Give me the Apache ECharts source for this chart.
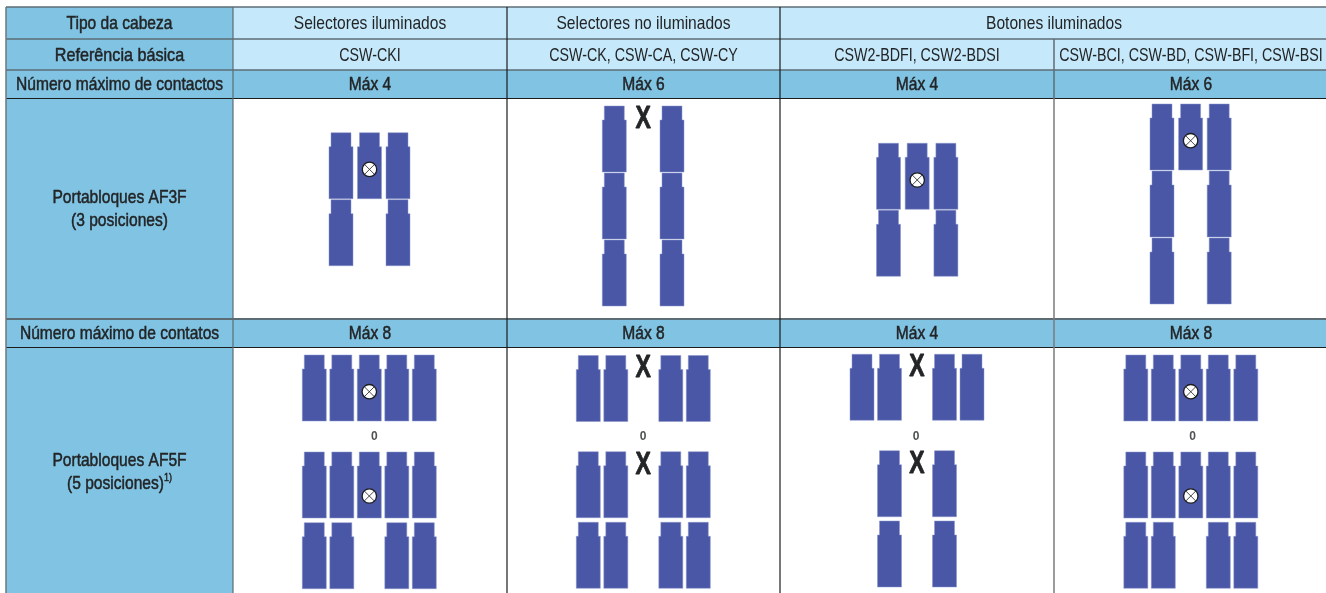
<!DOCTYPE html>
<html>
<head>
<meta charset="utf-8">
<title>Portabloques</title>
<style>
  html, body { margin: 0; padding: 0; background: #fff; }
  #chart { width: 1326px; height: 593px; }
</style>
<script src="https://cdn.jsdelivr.net/npm/echarts@6/dist/echarts.min.js"></script>
</head>
<body>
<div id="chart"></div>
<script>
// table text
const headTypes = ['Selectores iluminados', 'Selectores no iluminados', 'Botones iluminados'];
const basicRefs = ['CSW-CKI', 'CSW-CK, CSW-CA, CSW-CY', 'CSW2-BDFI, CSW2-BDSI', 'CSW-BCI, CSW-BD, CSW-BFI, CSW-BSI'];
const maxAf3 = ['Máx 4', 'Máx 6', 'Máx 4', 'Máx 6'];
const maxAf5 = ['Máx 8', 'Máx 8', 'Máx 4', 'Máx 8'];

// contact blocks per column: B block, L block with lamp, X not allowed, . empty
const af3Rows = [
  ['BLB', 'B.B'],
  ['BXB', 'B.B', 'B.B'],
  ['BLB', 'B.B'],
  ['BLB', 'B.B', 'B.B']
];
const af5FirstRows = ['BBLBB', 'BBXBB', 'BBXBB', 'BBLBB'];
const af5SecondRows = [
  ['BBLBB', 'BB.BB'],
  ['BBXBB', 'BB.BB'],
  ['.BXB.', '.B.B.'],
  ['BBLBB', 'BB.BB']
];

// layout, in page pixels (the axes below run 0-1326 and 0-593)
const colX = [6, 233, 507, 780, 1054, 1328];
const rowY = [7, 39, 70, 98, 319, 347, 597];
const af3Origin = [[329, 132.7, 28.5], [602.3, 106, 28.85], [876.5, 143.3, 28.7], [1150, 104, 28.6]];
const af5Origin = [[302.3, 27.5], [576.3, 27.5], [850, 27.5], [1123.8, 27.5]];
const af5Tops = [[355, 452, 522.7], [355.5, 451.7, 522.3], [354.3, 450.7, 521], [355, 452, 522.3]];
const orLabelX = [374.3, 643, 916, 1192.7];

const BLOCK_W = 24;
const BLOCK_H = 66;
const NECK_W = 20;
const NECK_H = 14;
const AF3_PITCH_Y = 67;
const TEXT_SCALE = 0.82;
const REF_SCALE = 0.75;

const DARK = '#80c3e2';
const LIGHT = '#c5e9fa';
const BLUE = '#4a57a6';
const INK = '#222426';
const SLATE = '#5c6c74';
const FONT = '"Liberation Sans", Arial, sans-serif';

// header and label cells
const cells = [];
const addCell = (c0, c1, r0, r1, fill, text, strong, scale) => {
  cells.push({ x0: colX[c0], x1: colX[c1], y0: rowY[r0], y1: rowY[r1], fill, text, strong, scale: scale || TEXT_SCALE });
};
addCell(0, 1, 0, 1, DARK, 'Tipo da cabeza', true);
addCell(1, 2, 0, 1, LIGHT, headTypes[0]);
addCell(2, 3, 0, 1, LIGHT, headTypes[1]);
addCell(3, 5, 0, 1, LIGHT, headTypes[2]);
addCell(0, 1, 1, 2, DARK, 'Referência básica', true, 0.85);
basicRefs.forEach((t, i) => addCell(i + 1, i + 2, 1, 2, LIGHT, t, false, REF_SCALE));
addCell(0, 1, 2, 3, DARK, 'Número máximo de contactos', true);
maxAf3.forEach((t, i) => addCell(i + 1, i + 2, 2, 3, DARK, t, true));
addCell(0, 1, 3, 4, DARK, 'Portabloques AF3F\n(3 posiciones)', true);
addCell(0, 1, 4, 5, DARK, 'Número máximo de contatos', true);
maxAf5.forEach((t, i) => addCell(i + 1, i + 2, 4, 5, DARK, t, true));
addCell(0, 1, 5, 6, DARK, 'Portabloques AF5F\n(5 posiciones){sup|1)}', true);

// grid lines: [x0, y0, x1, y1, colour, width]
const rules = [
  [6, 7, 1326, 7, SLATE, 1.5],
  [6, 39, 1326, 39, SLATE, 1.5],
  [6, 70, 1326, 70, SLATE, 1.5],
  [6, 98.5, 1326, 98.5, '#1c1c1c', 1],
  [6, 319, 1326, 319, SLATE, 2],
  [6, 347.5, 1326, 347.5, '#1c1c1c', 1],
  [6, 7, 6, 593, '#6b777d', 1.5],
  [233, 7, 233, 593, SLATE, 1.2],
  [507, 7, 507, 593, '#1c1c1c', 1.2],
  [780, 7, 780, 593, '#1c1c1c', 1.2],
  [1054, 39, 1054, 98, SLATE, 1.5],
  [1054, 98, 1054, 593, '#7a7a7a', 1.5]
];

// every block and X mark as [x, y, kind]
const marks = [];
const addRow = (pattern, x0, pitch, y) => {
  pattern.split('').forEach((k, i) => {
    if (k !== '.') marks.push([x0 + i * pitch, y, k]);
  });
};
af3Rows.forEach((rows, i) => {
  const [x0, top, pitch] = af3Origin[i];
  rows.forEach((pattern, r) => addRow(pattern, x0, pitch, top + r * AF3_PITCH_Y));
});
af5FirstRows.forEach((pattern, i) => addRow(pattern, af5Origin[i][0], af5Origin[i][1], af5Tops[i][0]));
af5SecondRows.forEach((rows, i) => {
  rows.forEach((pattern, r) => addRow(pattern, af5Origin[i][0], af5Origin[i][1], af5Tops[i][r + 1]));
});
// lamps sit lower in the second AF5F group
const lampOffset = y => (y > 440 && y < 470 ? 44 : 36.7);

const renderCell = (params, api) => {
  const c = cells[api.value(4)];
  const p0 = api.coord([c.x0, c.y0]);
  const p1 = api.coord([c.x1, c.y1]);
  const cy = c.text.indexOf('AF5F') > -1 ? api.coord([0, 472])[1] : (p0[1] + p1[1]) / 2 + 1;
  return {
    type: 'group',
    children: [
      { type: 'rect', shape: { x: p0[0], y: p0[1], width: p1[0] - p0[0], height: p1[1] - p0[1] }, style: { fill: c.fill } },
      {
        type: 'text',
        x: (p0[0] + p1[0]) / 2,
        y: cy,
        scaleX: c.scale,
        style: {
          text: c.text,
          align: 'center',
          verticalAlign: 'middle',
          font: '19px ' + FONT,
          lineHeight: 23,
          fill: INK,
          stroke: c.strong ? INK : null,
          lineWidth: c.strong ? 0.5 : 0,
          rich: { sup: { font: '11px ' + FONT, fill: INK, verticalAlign: 'top', lineHeight: 23 } }
        }
      }
    ]
  };
};

const renderRule = (params, api) => {
  const p0 = api.coord([api.value(0), api.value(1)]);
  const p1 = api.coord([api.value(2), api.value(3)]);
  const r = rules[api.value(4)];
  return {
    type: 'line',
    shape: { x1: p0[0], y1: p0[1], x2: p1[0], y2: p1[1] },
    style: { stroke: r[4], lineWidth: r[5] }
  };
};

const renderMark = (params, api) => {
  const p = api.coord([api.value(0), api.value(1)]);
  const kind = marks[params.dataIndex][2];
  const cx = p[0] + BLOCK_W / 2;
  if (kind === 'X') {
    return {
      type: 'text',
      x: cx,
      y: p[1] + 13,
      scaleX: 0.72,
      style: { text: 'X', align: 'center', verticalAlign: 'middle', font: 'bold 32px ' + FONT, fill: INK, stroke: INK, lineWidth: 0.8 }
    };
  }
  const inset = (BLOCK_W - NECK_W) / 2;
  const children = [{
    type: 'polygon',
    shape: {
      points: [
        [p[0] + inset, p[1]], [p[0] + BLOCK_W - inset, p[1]],
        [p[0] + BLOCK_W - inset, p[1] + NECK_H], [p[0] + BLOCK_W, p[1] + NECK_H],
        [p[0] + BLOCK_W, p[1] + BLOCK_H], [p[0], p[1] + BLOCK_H],
        [p[0], p[1] + NECK_H], [p[0] + inset, p[1] + NECK_H]
      ]
    },
    style: { fill: BLUE, stroke: '#8a94cc', lineWidth: 0.5 }
  }];
  if (kind === 'L') {
    const ly = p[1] + lampOffset(api.value(1));
    const d = 5.2;
    children.push(
      { type: 'circle', shape: { cx, cy: ly, r: 7.2 }, style: { fill: '#fff', stroke: '#1c1c1c', lineWidth: 1.3 } },
      { type: 'line', shape: { x1: cx - d, y1: ly - d, x2: cx + d, y2: ly + d }, style: { stroke: '#1c1c1c', lineWidth: 0.8 } },
      { type: 'line', shape: { x1: cx - d, y1: ly + d, x2: cx + d, y2: ly - d }, style: { stroke: '#1c1c1c', lineWidth: 0.8 } }
    );
  }
  return { type: 'group', children };
};

const chart = echarts.init(document.getElementById('chart'));
chart.setOption({
  animation: false,
  backgroundColor: '#fff',
  grid: { left: 0, right: 0, top: 0, bottom: 0 },
  xAxis: { type: 'value', min: 0, max: 1326, show: false },
  yAxis: { type: 'value', min: 0, max: 593, inverse: true, show: false },
  tooltip: { show: false },
  series: [
    {
      type: 'custom',
      silent: true,
      renderItem: renderCell,
      encode: { x: [0, 2], y: [1, 3] },
      data: cells.map((c, i) => [c.x0, c.y0, c.x1, c.y1, i])
    },
    {
      type: 'custom',
      silent: true,
      renderItem: renderRule,
      encode: { x: [0, 2], y: [1, 3] },
      data: rules.map((r, i) => [r[0], r[1], r[2], r[3], i])
    },
    {
      type: 'custom',
      silent: true,
      renderItem: renderMark,
      encode: { x: 0, y: 1 },
      data: marks.map(m => [m[0], m[1]])
    },
    {
      type: 'scatter',
      silent: true,
      symbolSize: 0,
      data: orLabelX.map(x => [x, 437]),
      label: {
        show: true,
        position: 'inside',
        formatter: '0',
        fontFamily: FONT,
        fontWeight: 'bold',
        fontSize: 12,
        color: INK
      }
    }
  ]
});
</script>
</body>
</html>
